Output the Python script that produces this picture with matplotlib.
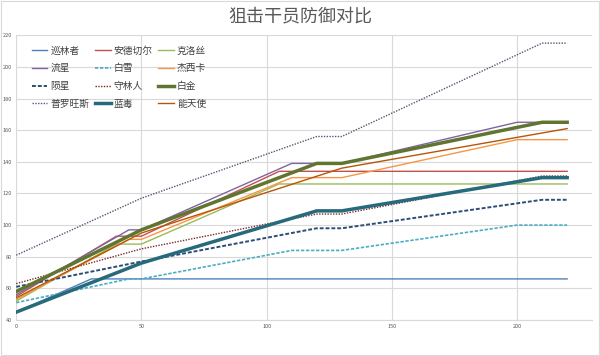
import matplotlib.pyplot as plt
from matplotlib.patches import Rectangle

plt.rcParams['font.family'] = ['Noto Sans CJK SC', 'DejaVu Sans']

# 干员名称
names = ['巡林者', '安德切尔', '克洛丝', '流星', '白雪', '杰西卡',
         '陨星', '守林人', '白金', '普罗旺斯', '蓝毒', '能天使']

# 横轴断点（按星级）
x_2star = [0, 30, 220]
x_3star = [0, 40, 50, 105, 220]
x_4star = [0, 45, 50, 110, 130, 200, 220]
x_5star = [0, 50, 120, 130, 210, 220]
x_6star = [0, 50, 130, 220]

# 防御值
def_xunlinzhe = [45, 66, 66]
def_andeqieer = [55, 93, 93, 134, 134]
def_keluosi = [52, 88, 88, 126, 126]
def_liuxing = [56, 97, 97, 139, 139, 165, 165]
def_baixue = [51, 66, 66, 84, 84, 100, 100]
def_jiexika = [53, 91, 91, 130, 130, 154, 154]
def_yunxing = [61, 77, 98, 98, 116, 116]
def_shoulinren = [63, 85, 107, 107, 131, 131]
def_baijin = [58, 97, 139, 139, 165, 165]
def_luowangsi = [81, 117, 156, 156, 215, 215]
def_landu = [45, 76, 109, 109, 130, 130]
def_nengtianshi = [54, 95, 136, 161]

xs = [x_2star, x_3star, x_3star, x_4star, x_4star, x_4star,
      x_5star, x_5star, x_5star, x_5star, x_5star, x_6star]
ys = [def_xunlinzhe, def_andeqieer, def_keluosi, def_liuxing, def_baixue, def_jiexika,
      def_yunxing, def_shoulinren, def_baijin, def_luowangsi, def_landu, def_nengtianshi]

colors = ['#4F81BD', '#C0504D', '#9BBB59', '#8064A2', '#4BACC6', '#F79646',
          '#2C4D75', '#772C2A', '#5F7530', '#5C5470', '#276A7C', '#B65708']
styles = ['-', '-', '-', '-', (0, (2, 1)), '-',
          (0, (2, 1)), (0, (1, 1)), '-', (0, (1, 1)), '-', '-']
widths = [1, 1, 1, 1, 1.2, 1, 1.4, 1, 2.5, 1, 2.5, 1]

fig = plt.figure(figsize=(6, 3.56), dpi=100)
fig.patches.append(Rectangle((0.002, 0.003), 0.996, 0.994, transform=fig.transFigure,
                             fill=False, edgecolor='#D9D9D9', linewidth=0.8))
ax = fig.add_axes([0.027, 0.101, 0.96, 0.80])

lines = []
for x, y, n, c, s, w in zip(xs, ys, names, colors, styles, widths):
    ln, = ax.plot(x, y, color=c, linestyle=s, linewidth=w, label=n)
    lines.append(ln)

ax.set_xlim(0, 230)
ax.set_ylim(40, 220)
ax.set_xticks([0, 50, 100, 150, 200])
ax.set_yticks(range(40, 221, 20))
ax.grid(True, color='#D9D9D9', linewidth=0.8)
ax.set_axisbelow(True)
for sp in ['top', 'right', 'left']:
    ax.spines[sp].set_visible(False)
ax.spines['bottom'].set_color('#D9D9D9')
ax.tick_params(length=0, labelsize=4, labelcolor='#595959', pad=3)

fig.text(0.5, 0.955, '狙击干员防御对比', ha='center', va='center',
         fontsize=13, color='#595959')

# 图例按行排列
order = [0, 3, 6, 9, 1, 4, 7, 10, 2, 5, 8, 11]
ax.legend([lines[i] for i in order], [names[i] for i in order],
          ncol=3, loc='upper left', bbox_to_anchor=(0.012, 0.995), frameon=False,
          fontsize=7, handlelength=1.6, columnspacing=0.6, labelspacing=0.8,
          handletextpad=0.3, labelcolor='#404040')

fig.savefig('out.png', dpi=100)
